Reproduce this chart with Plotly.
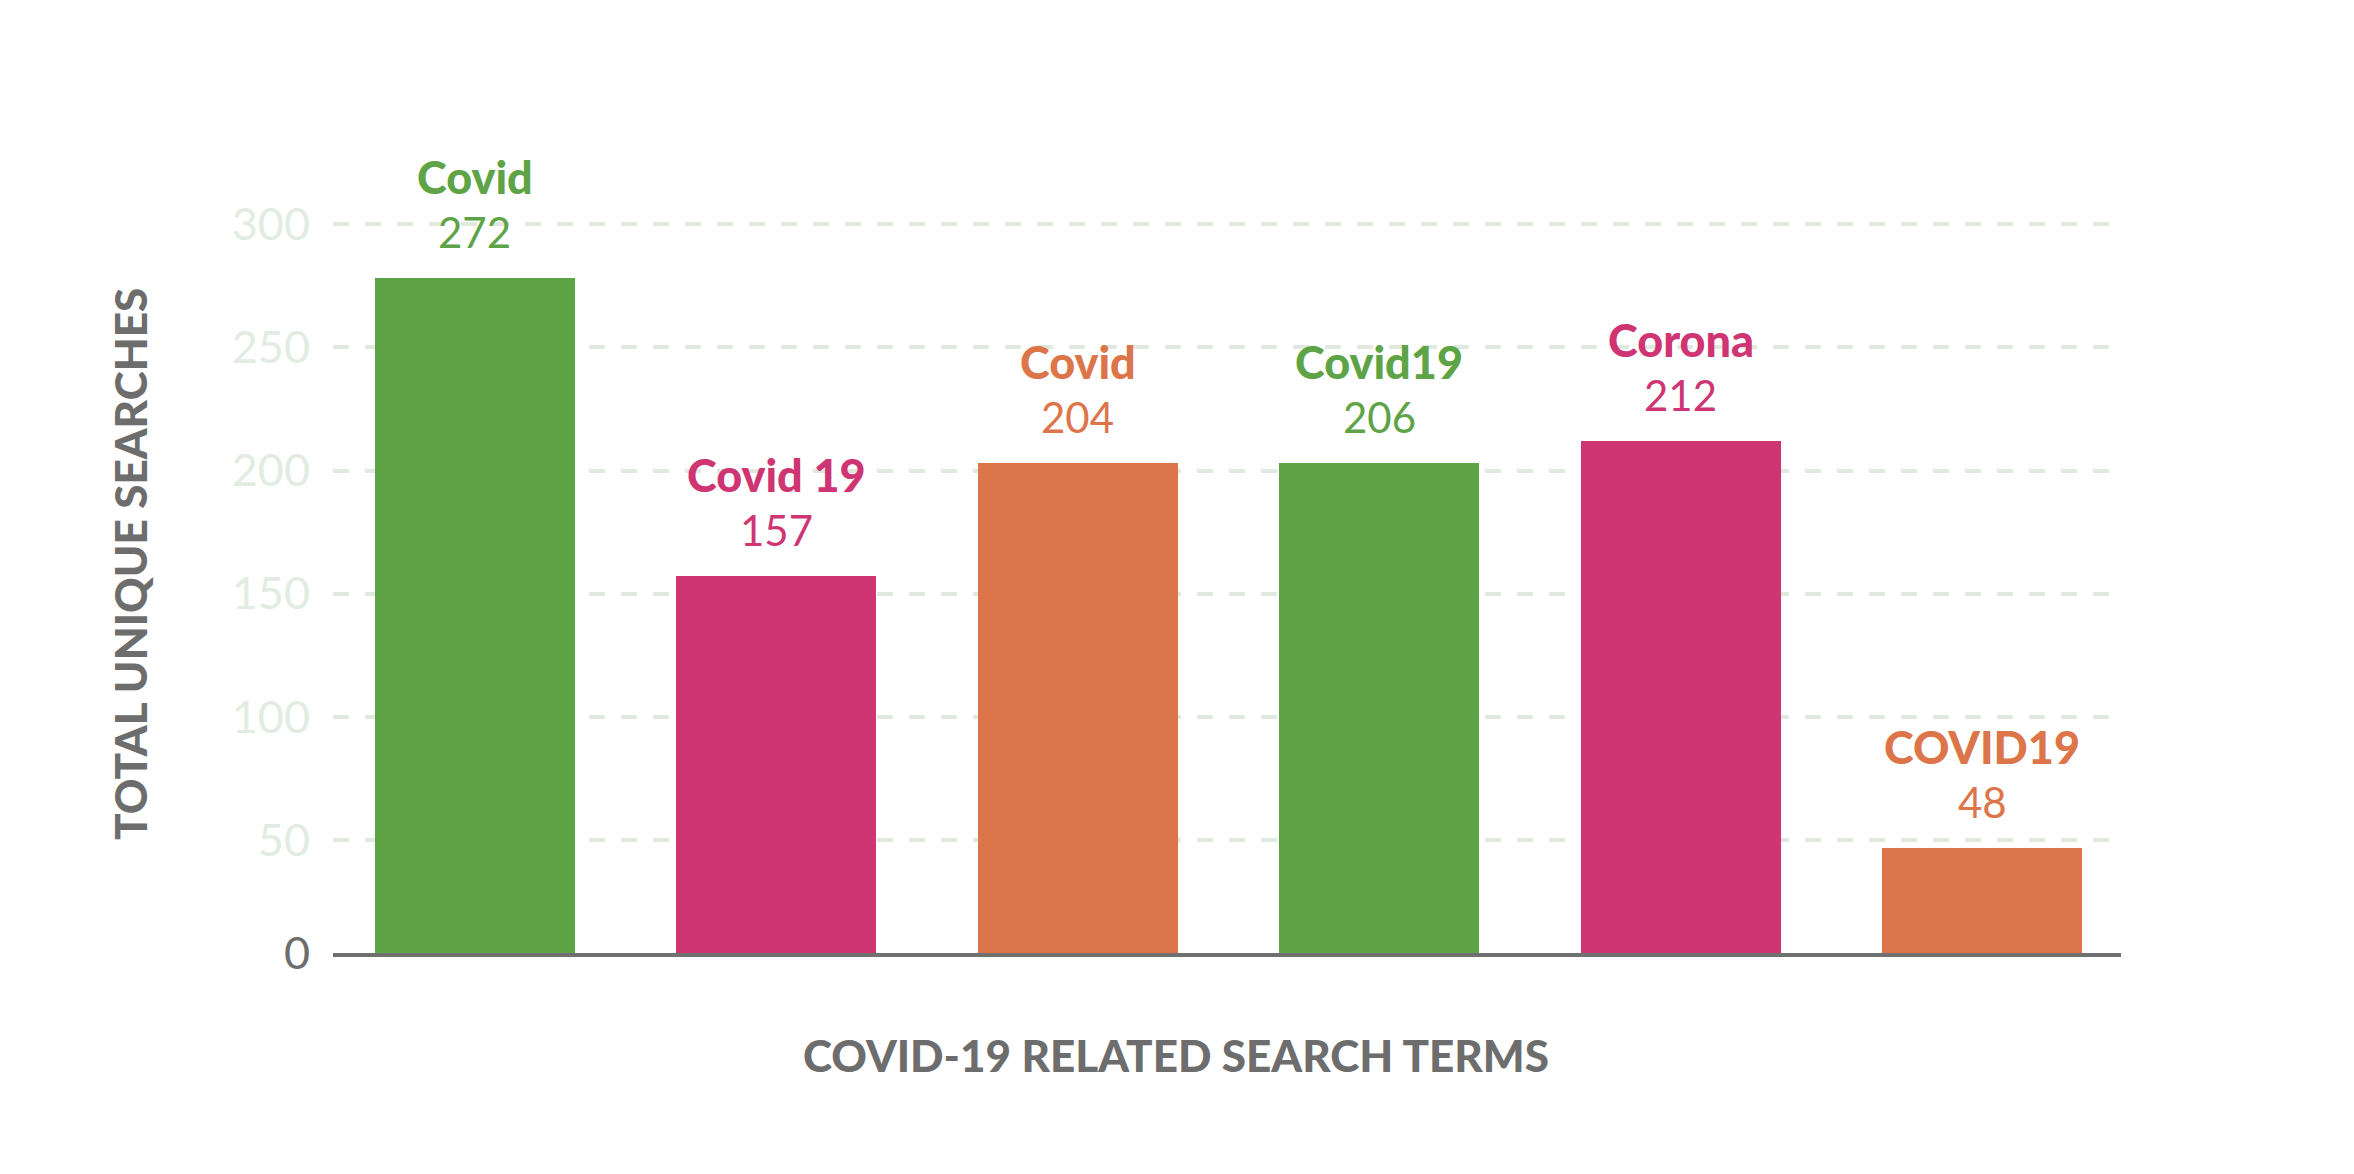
import plotly.graph_objects as go

terms = ["Covid", "Covid 19", "Covid", "Covid19", "Corona", "COVID19"]
bar_values = [278, 157, 203, 203, 212, 47]
value_labels = [272, 157, 204, 206, 212, 48]
bar_colors = ["#5ea346", "#cf3572", "#dc7549", "#5ea346", "#cf3572", "#dc7549"]
y_ticks = [0, 50, 100, 150, 200, 250, 300]

GRAY = "#6d6d6d"
LIGHT = "#e2ece2"
FONT = "Lato"

# page body has an 8px margin; compensate so the picture lands where intended
OFF = 8
W, H = 2354, 1174
L, R, T, B = 333 - OFF, 233 + OFF, 150 - OFF, 221 + OFF
pw, ph = W - L - R, H - T - B

# the reference's baseline sits slightly above zero (bars run under it)
Y_MIN, Y_MAX = 4.18, 330.1

x = list(range(len(terms)))

fig = go.Figure()
fig.add_trace(go.Bar(
    x=x, y=bar_values,
    marker=dict(color=bar_colors, line=dict(width=0)),
    width=0.663,
    hoverinfo="skip",
    cliponaxis=True,
))

tickvals = [max(t, Y_MIN) for t in y_ticks]
ticktext = []
for t in y_ticks:
    if t == 0:
        ticktext.append(f'<span style="color:{GRAY}">{t}</span>')
    else:
        ticktext.append(str(t))

annotations = []
for xi, v, name, lab, col in zip(x, bar_values, terms, value_labels, bar_colors):
    annotations.append(dict(
        x=xi, y=v, xref="x", yref="y", text=name,
        showarrow=False, yanchor="middle", yshift=101,
        font=dict(family=FONT, size=45, color=col, weight=900),
    ))
    annotations.append(dict(
        x=xi, y=v, xref="x", yref="y", text=str(lab),
        showarrow=False, yanchor="middle", yshift=46,
        font=dict(family=FONT, size=42, color=col),
    ))


def paper_xy(px, py):
    px -= OFF
    py -= OFF
    return (px - L) / pw, 1 - (py - T) / ph


ax, ay = paper_xy(1176, 1055)
annotations.append(dict(
    x=ax, y=ay, xref="paper", yref="paper",
    text="COVID-19 RELATED SEARCH TERMS", showarrow=False,
    xanchor="center", yanchor="middle",
    font=dict(family=FONT, size=44, color=GRAY, weight=900),
))
ax, ay = paper_xy(130, 564)
annotations.append(dict(
    x=ax, y=ay, xref="paper", yref="paper",
    text="TOTAL UNIQUE SEARCHES", showarrow=False, textangle=-90,
    xanchor="center", yanchor="middle",
    font=dict(family=FONT, size=44, color=GRAY, weight=900),
))

fig.update_layout(
    width=W, height=H,
    margin=dict(l=L, r=R, t=T, b=B),
    paper_bgcolor="white", plot_bgcolor="white",
    showlegend=False,
    bargap=0,
    annotations=annotations,
    xaxis=dict(
        range=[-0.47, 5.46], showticklabels=False, ticks="",
        showgrid=False, zeroline=False,
        showline=True, linecolor="#707070", linewidth=4,
    ),
    yaxis=dict(
        range=[Y_MIN, Y_MAX], tickvals=tickvals, ticktext=ticktext,
        tickfont=dict(family=FONT, size=45, color=LIGHT),
        ticks="", ticklabelstandoff=22,
        showgrid=True, gridcolor="#dfe9df", gridwidth=4, griddash="16px,16px",
        zeroline=False, showline=False,
    ),
)

fig.write_html("out.html")
